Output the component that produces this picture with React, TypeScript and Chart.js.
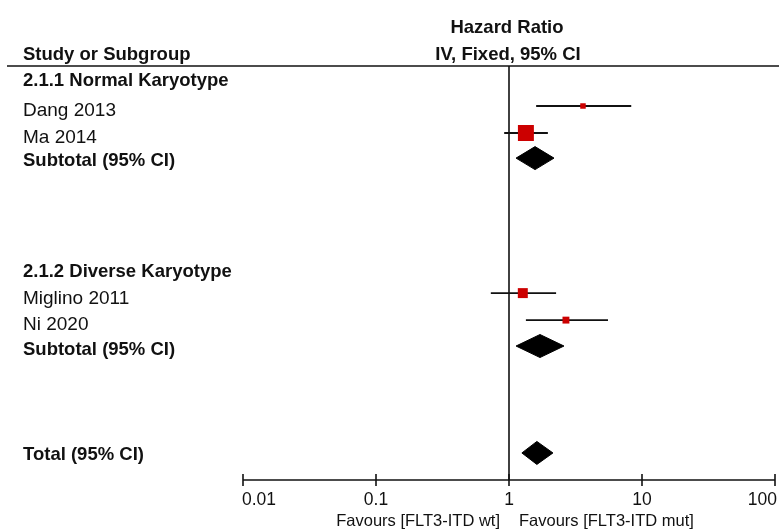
import React, { useEffect, useRef } from "react";
import { Chart, registerables } from "chart.js";

Chart.register(...registerables);

// ---- data ----
const studyNames = ["Dang 2013", "Ma 2014", "Miglino 2011", "Ni 2020"];
const studyRows = [1, 2, 7.93, 8.93];
const studyHR = [3.6, 1.34, 1.27, 2.68];
const studyLow = [1.6, 0.92, 0.73, 1.34];
const studyHigh = [8.3, 1.96, 2.26, 5.55];
const studyWeight = [7, 59, 23, 11];

const pooledNames = ["Subtotal 2.1.1", "Subtotal 2.1.2", "Total"];
const pooledRows = [2.93, 9.89, 13.85];
const pooledHR = [1.57, 1.71, 1.62];
const pooledLow = [1.13, 1.13, 1.25];
const pooledHigh = [2.18, 2.59, 2.14];

const labelTexts = [
  "2.1.1 Normal Karyotype",
  "Dang 2013",
  "Ma 2014",
  "Subtotal (95% CI)",
  "2.1.2 Diverse Karyotype",
  "Miglino 2011",
  "Ni 2020",
  "Subtotal (95% CI)",
  "Total (95% CI)",
];
const labelRows = [0, 1.11, 2.11, 2.98, 7.07, 8.07, 9.06, 9.96, 13.88];
const labelBold = [true, false, false, true, true, false, false, true, true];

const tickValues = [0.01, 0.1, 1, 10, 100];
const tickLabels = ["0.01", "0.1", "1", "10", "100"];

const headerLeft = "Study or Subgroup";
const headerRight1 = "Hazard Ratio";
const headerRight2 = "IV, Fixed, 95% CI";
const favoursLeft = "Favours [FLT3-ITD wt]";
const favoursRight = "Favours [FLT3-ITD mut]";

// ---- styles ----
const FONT = '"Liberation Sans", Arial, Helvetica, sans-serif';
const RED = "#cc0000";
const INK = "#111111";
const ROW_PX = 27;
const Y_MIN = -13 / ROW_PX;
const Y_MAX = 401 / ROW_PX;
const DIAMOND_HALF = 11.5 / ROW_PX;

export default function App() {
  const ref = useRef<HTMLCanvasElement | null>(null);

  useEffect(() => {
    if (!ref.current) return;

    const datasets: any[] = [];

    // squares
    datasets.push({
      label: "Studies",
      type: "scatter",
      data: studyHR.map((v, i) => ({ x: v, y: studyRows[i] })),
      pointStyle: "rect",
      pointRadius: studyWeight.map((w) => (2.08 * Math.sqrt(w)) / Math.SQRT2),
      pointBackgroundColor: RED,
      pointBorderWidth: 0,
      borderWidth: 0,
      order: 0,
    });

    // CI lines
    studyNames.forEach((name, i) => {
      datasets.push({
        label: name + " CI",
        type: "scatter",
        showLine: true,
        data: [
          { x: studyLow[i], y: studyRows[i] },
          { x: studyHigh[i], y: studyRows[i] },
        ],
        borderColor: INK,
        borderWidth: 1.8,
        pointRadius: 0,
        order: 2,
      });
    });

    // diamonds
    pooledNames.forEach((name, i) => {
      const r = pooledRows[i];
      datasets.push({
        label: name,
        type: "scatter",
        showLine: true,
        fill: "shape",
        data: [
          { x: pooledLow[i], y: r },
          { x: pooledHR[i], y: r - DIAMOND_HALF },
          { x: pooledHigh[i], y: r },
          { x: pooledHR[i], y: r + DIAMOND_HALF },
          { x: pooledLow[i], y: r },
        ],
        borderColor: "#000",
        backgroundColor: "#000",
        borderWidth: 1,
        pointRadius: 0,
        tension: 0,
        order: 1,
      });
    });

    const decor = {
      id: "forestDecor",
      beforeDatasetsDraw(chart: any) {
        const ctx = chart.ctx;
        const xs = chart.scales.x;
        const area = chart.chartArea;
        const x1 = xs.getPixelForValue(1);
        ctx.save();
        ctx.strokeStyle = INK;
        ctx.lineWidth = 1.6;
        ctx.beginPath();
        ctx.moveTo(x1, area.top);
        ctx.lineTo(x1, area.bottom);
        ctx.stroke();
        ctx.restore();
      },
      afterDraw(chart: any) {
        const ctx = chart.ctx;
        const xs = chart.scales.x;
        const ys = chart.scales.y;
        const area = chart.chartArea;
        const x1 = xs.getPixelForValue(1);
        ctx.save();
        ctx.fillStyle = INK;
        ctx.strokeStyle = INK;

        // header line
        ctx.lineWidth = 1.6;
        ctx.beginPath();
        ctx.moveTo(7, area.top);
        ctx.lineTo(chart.width, area.top);
        ctx.stroke();

        // headers
        ctx.textBaseline = "alphabetic";
        ctx.font = `bold 18.5px ${FONT}`;
        ctx.textAlign = "left";
        ctx.fillText(headerLeft, 23, 60);
        ctx.textAlign = "center";
        ctx.fillText(headerRight1, x1 - 2, 33);
        ctx.fillText(headerRight2, x1 - 1, 60);

        // row labels
        ctx.textAlign = "left";
        labelTexts.forEach((t, i) => {
          const size = labelBold[i] ? 18.5 : 19;
          ctx.font = `${labelBold[i] ? "bold " : ""}${size}px ${FONT}`;
          const y = ys.getPixelForValue(labelRows[i]) + 0.358 * size;
          ctx.fillText(t, 23, y);
        });

        // x axis
        const ay = area.bottom;
        ctx.lineWidth = 1.6;
        ctx.beginPath();
        ctx.moveTo(xs.getPixelForValue(tickValues[0]), ay);
        ctx.lineTo(xs.getPixelForValue(tickValues[tickValues.length - 1]), ay);
        ctx.stroke();
        tickValues.forEach((v) => {
          const px = xs.getPixelForValue(v);
          ctx.beginPath();
          ctx.moveTo(px, ay - 6);
          ctx.lineTo(px, ay + 6);
          ctx.stroke();
        });
        ctx.font = `17.5px ${FONT}`;
        tickValues.forEach((v, i) => {
          const px = xs.getPixelForValue(v);
          if (i === 0) {
            ctx.textAlign = "left";
            ctx.fillText(tickLabels[i], px - 1, ay + 25);
          } else if (i === tickValues.length - 1) {
            ctx.textAlign = "right";
            ctx.fillText(tickLabels[i], px + 2, ay + 25);
          } else {
            ctx.textAlign = "center";
            ctx.fillText(tickLabels[i], px, ay + 25);
          }
        });

        // favours labels
        ctx.font = `16.5px ${FONT}`;
        ctx.textAlign = "right";
        ctx.fillText(favoursLeft, x1 - 9, ay + 46);
        ctx.textAlign = "left";
        ctx.fillText(favoursRight, x1 + 10, ay + 46);

        ctx.restore();
      },
    };

    const chart = new Chart(ref.current, {
      type: "scatter",
      data: { datasets },
      options: {
        animation: false,
        responsive: false,
        maintainAspectRatio: false,
        events: [],
        layout: {
          autoPadding: false,
          padding: { left: 243, right: 4, top: 66, bottom: 50 },
        },
        plugins: {
          legend: { display: false },
          tooltip: { enabled: false },
        },
        scales: {
          x: {
            type: "logarithmic",
            min: 0.01,
            max: 100,
            display: false,
          },
          y: {
            type: "linear",
            reverse: true,
            min: Y_MIN,
            max: Y_MAX,
            display: false,
          },
        },
      },
      plugins: [decor],
    } as any);

    return () => chart.destroy();
  }, []);

  return (
    <div
      style={{
        position: "fixed",
        left: 0,
        top: 0,
        width: 779,
        height: 530,
        background: "#fff",
      }}
    >
      <canvas ref={ref} width={779} height={530} style={{ display: "block" }} />
    </div>
  );
}
